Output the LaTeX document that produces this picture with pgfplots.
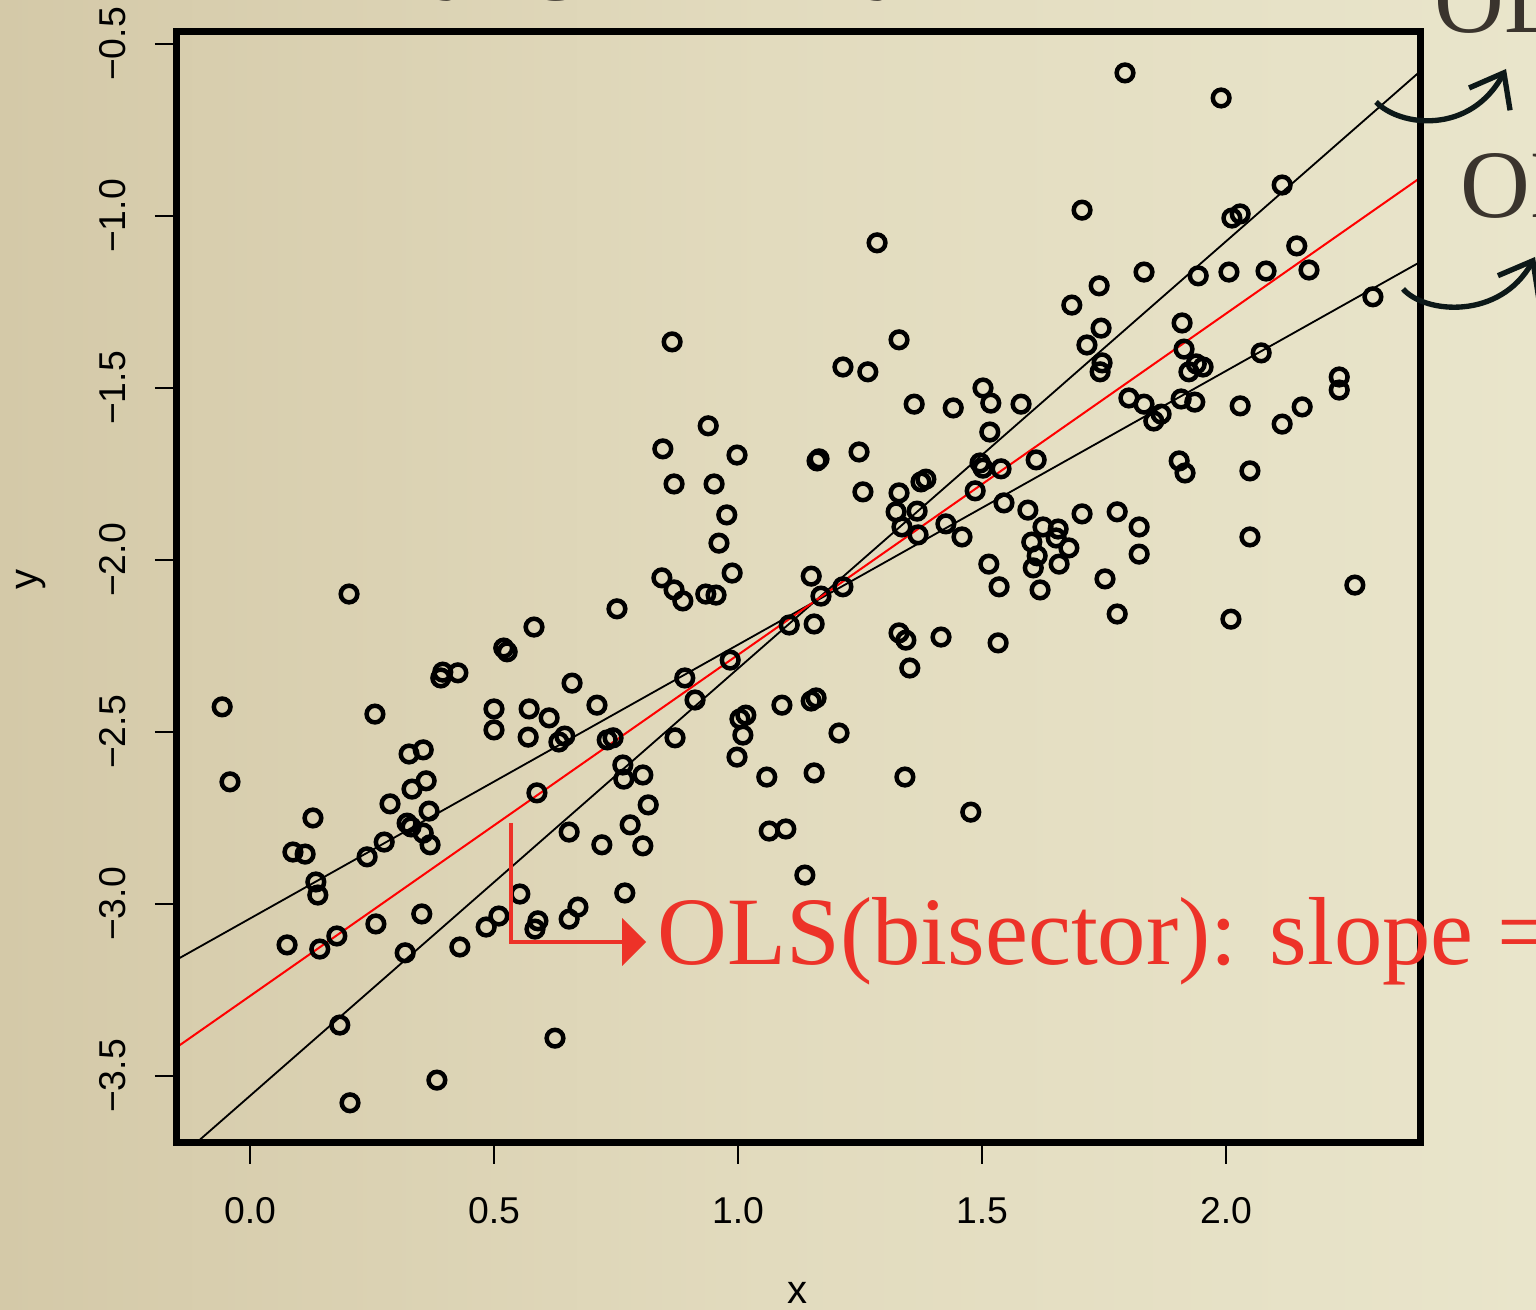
\documentclass[border=0pt]{standalone}
\usepackage{fontspec}
\setmainfont{Liberation Serif}
\newfontfamily\helv{Liberation Sans}
\usepackage{pgfplots}
\pgfplotsset{compat=1.18}
\usetikzlibrary{arrows.meta}
\definecolor{bgL}{RGB}{212,201,168}
\definecolor{bgM}{RGB}{226,219,190}
\definecolor{bgR}{RGB}{233,229,203}
\definecolor{redtxt}{RGB}{237,50,40}
\definecolor{darktxt}{RGB}{58,52,45}
\definecolor{arrowdark}{RGB}{12,24,24}
\begin{document}
\begin{tikzpicture}
\useasboundingbox (0,0) rectangle (460.8pt,393pt);
\clip (0,0) rectangle (460.8pt,393pt);
\shade[left color=bgL, right color=bgR, middle color=bgM] (0,0) rectangle (460.8pt,393pt);
\begin{axis}[
  at={(52.8pt,50.1pt)}, anchor=south west,
  scale only axis, width=373.2pt, height=333.3pt,
  xmin=-0.1516, xmax=2.3975, ymin=-3.6948, ymax=-0.4651,
  axis on top,
  axis line style={line width=2.1pt},
  xtick={0,0.5,1,1.5,2}, xticklabels={0.0,0.5,1.0,1.5,2.0},
  ytick={-3.5,-3,-2.5,-2,-1.5,-1,-0.5},
  yticklabels={−3.5,−3.0,−2.5,−2.0,−1.5,−1.0,−0.5},
  xtick pos=bottom, ytick pos=left,
  tick align=outside, major tick length=6.3pt,
  tick style={line width=0.6pt, black},
  tick label style={font=\helv\fontsize{11.2}{13}\selectfont},
  xticklabel style={anchor=base, yshift=-18pt},
  yticklabel style={xshift=-8.7pt, rotate=90, anchor=base},
]
\addplot[only marks, mark=o, mark size=2.5pt, mark options={line width=1.35pt, black}] table {
x y
-0.057 -2.427
-0.041 -2.645
0.076 -3.119
0.088 -2.849
0.113 -2.855
0.129 -2.750
0.135 -2.936
0.139 -2.974
0.143 -3.131
0.178 -3.093
0.184 -3.352
0.203 -2.099
0.205 -3.578
0.240 -2.863
0.256 -2.448
0.258 -3.058
0.275 -2.820
0.287 -2.709
0.318 -3.142
0.322 -2.765
0.326 -2.564
0.330 -2.776
0.332 -2.666
0.352 -3.029
0.355 -2.552
0.355 -2.794
0.361 -2.642
0.367 -2.730
0.369 -2.828
0.383 -3.512
0.391 -2.343
0.395 -2.326
0.426 -2.328
0.430 -3.125
0.484 -3.067
0.500 -2.433
0.500 -2.494
0.510 -3.035
0.520 -2.256
0.527 -2.267
0.553 -2.971
0.570 -2.515
0.572 -2.433
0.582 -2.195
0.584 -3.073
0.588 -2.677
0.590 -3.049
0.613 -2.459
0.625 -3.390
0.633 -2.529
0.645 -2.512
0.654 -2.791
0.654 -3.044
0.660 -2.358
0.672 -3.009
0.711 -2.422
0.721 -2.828
0.732 -2.523
0.744 -2.517
0.752 -2.142
0.764 -2.596
0.766 -2.637
0.768 -2.968
0.779 -2.770
0.805 -2.625
0.805 -2.831
0.816 -2.712
0.846 -1.677
0.844 -2.052
0.865 -1.366
0.869 -2.087
0.869 -1.779
0.871 -2.517
0.887 -2.119
0.891 -2.343
0.912 -2.407
0.934 -2.099
0.939 -1.610
0.955 -2.102
0.951 -1.779
0.961 -1.951
0.977 -1.869
0.984 -2.291
0.988 -2.038
0.998 -1.695
0.998 -2.573
1.004 -2.462
1.010 -2.509
1.016 -2.451
1.059 -2.631
1.064 -2.788
1.090 -2.422
1.098 -2.782
1.105 -2.189
1.137 -2.916
1.150 -2.047
1.150 -2.410
1.156 -2.186
1.160 -2.401
1.156 -2.619
1.166 -1.706
1.162 -1.712
1.170 -2.105
1.207 -2.503
1.215 -2.078
1.215 -1.439
1.248 -1.686
1.256 -1.802
1.266 -1.453
1.285 -1.078
1.324 -1.860
1.330 -1.360
1.330 -1.805
1.330 -2.212
1.336 -1.904
1.342 -2.631
1.344 -2.233
1.352 -2.314
1.361 -1.547
1.369 -1.927
1.367 -1.858
1.375 -1.773
1.385 -1.765
1.416 -2.224
1.426 -1.895
1.441 -1.558
1.459 -1.933
1.477 -2.733
1.486 -1.799
1.502 -1.500
1.496 -1.718
1.502 -1.733
1.514 -2.012
1.516 -1.628
1.518 -1.544
1.533 -2.241
1.535 -2.078
1.539 -1.735
1.545 -1.834
1.580 -1.547
1.594 -1.855
1.602 -1.948
1.605 -2.023
1.611 -1.709
1.613 -1.988
1.619 -2.087
1.625 -1.904
1.652 -1.936
1.656 -1.910
1.658 -2.012
1.678 -1.965
1.684 -1.259
1.705 -0.983
1.705 -1.866
1.715 -1.375
1.740 -1.203
1.744 -1.326
1.742 -1.453
1.746 -1.427
1.752 -2.055
1.777 -2.157
1.777 -1.860
1.793 -0.584
1.801 -1.529
1.822 -1.904
1.822 -1.983
1.832 -1.163
1.832 -1.547
1.852 -1.596
1.867 -1.576
1.904 -1.712
1.908 -1.532
1.910 -1.311
1.916 -1.747
1.914 -1.387
1.924 -1.453
1.936 -1.541
1.943 -1.174
1.939 -1.430
1.953 -1.439
1.990 -0.657
2.006 -1.163
2.012 -1.006
2.010 -2.172
2.029 -0.994
2.029 -1.552
2.049 -1.933
2.049 -1.741
2.072 -1.398
2.082 -1.160
2.115 -1.605
2.115 -0.910
2.145 -1.087
2.156 -1.555
2.170 -1.157
2.232 -1.468
2.232 -1.506
2.264 -2.073
2.301 -1.235
};
\addplot[black, line width=0.55pt] coordinates {(-0.1516,-3.746) (2.3975,-0.580)};
\addplot[black, line width=0.55pt] coordinates {(-0.1516,-3.163) (2.3975,-1.134)};
\addplot[red, line width=0.6pt] coordinates {(-0.1516,-3.418) (2.3975,-0.8895)};
\end{axis}
\begin{scope}[x=0.3pt,y=-0.3pt,shift={(0,393pt)}]
  % axis labels
  \node[anchor=base, inner sep=0pt, font=\helv\fontsize{12}{14}\selectfont] at (797,1303) {x};
  \node[anchor=base, rotate=90, inner sep=0pt, font=\helv\fontsize{12}{14}\selectfont] at (37,580) {y};
  % red bent arrow
  \draw[redtxt, line width=1.2pt] (511,823) -- (511,942) -- (626,942);
  \fill[redtxt] (622,918) -- (646,942) -- (622,966) -- cycle;
  \node[anchor=base west, inner sep=0pt, text=redtxt, font=\fontsize{29}{34}\selectfont] at (657,965) {OLS(bisector): slope =};
  % right-hand labels (cut by the edge)
  \node[anchor=base west, inner sep=0pt, text=darktxt, font=\fontsize{29}{34}\selectfont] at (1434,33) {OLS(X|Y)};
  \node[anchor=base west, inner sep=0pt, text=darktxt, font=\fontsize{29}{34}\selectfont] at (1460,218) {OLS(Y|X)};
  % title fragments at the top edge
  \node[anchor=base west, inner sep=0pt, text=darktxt, font=\fontsize{29}{34}\selectfont] at (437,-19) {y};
  \node[anchor=base west, inner sep=0pt, text=darktxt, font=\fontsize{29}{34}\selectfont] at (533,-19) {g};
  \node[anchor=base west, inner sep=0pt, text=darktxt, font=\fontsize{29}{34}\selectfont] at (868,-19) {y};
  % curved arrows
  \draw[arrowdark, line width=1.6pt, -{Straight Barb[length=9pt, width=14pt]}] (1376,102) .. controls (1400,127) and (1470,135) .. (1506,69);
  \draw[arrowdark, line width=1.6pt, -{Straight Barb[length=9pt, width=14pt]}] (1403,289) .. controls (1425,314) and (1500,320) .. (1535,257);
\end{scope}
\end{tikzpicture}
\end{document}
